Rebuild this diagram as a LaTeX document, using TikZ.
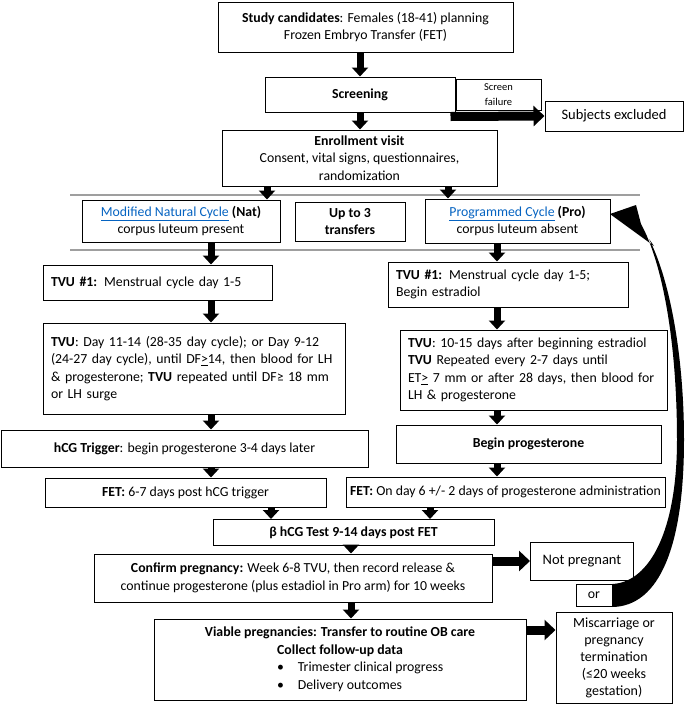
\documentclass[tikz,border=0pt]{standalone}
\usepackage{fontspec}
\setmainfont{Carlito}
\usetikzlibrary{arrows.meta,calc}
\definecolor{linkblue}{HTML}{0563C1}
\newcommand\fs{\fontsize{13.8}{17.5}\selectfont}
\newcommand\fsmall{\fontsize{10.5}{15}\selectfont}
\newcommand\fbig{\fontsize{14.5}{17}\selectfont}
\newcommand\lnk[1]{\textcolor{linkblue}{\underline{#1}}}
\tikzset{
  box/.style={draw, line width=1pt, inner sep=0pt, align=center, font=\fs},
  lbox/.style={draw, line width=1pt, inner ysep=0pt, inner xsep=8pt, align=left, font=\fs},
  varr/.style={line width=7pt, -{Triangle[width=16pt,length=9pt]}},
  harr/.style={line width=9pt, -{Triangle[width=20pt,length=11pt]}},
  sepline/.style={draw=gray!75, line width=1.2pt}
}
\begin{document}
\begin{tikzpicture}[x=1pt,y=-1pt]
\useasboundingbox (0,0) rectangle (685,705);
% separator lines
\draw[sepline] (70,195) -- (640,195);
\draw[sepline] (70,250) -- (640,250);
% boxes
\node[box, minimum width=295, minimum height=50] (study) at (365.5,27) {\textbf{Study candidates}: Females (18-41) planning\\Frozen Embryo Transfer (FET)};
\node[box, minimum width=190, minimum height=35] (screen) at (360,94.5) {\textbf{Screening}};
\node[box, minimum width=85, minimum height=31, font=\fsmall] (sfail) at (498.5,94.5) {Screen\\failure};
\node[box, minimum width=138, minimum height=30, font=\fbig] (excl) at (614,116) {Subjects excluded};
\node[box, minimum width=275, minimum height=56] (enroll) at (359.5,158) {\textbf{Enrollment visit}\\Consent, vital signs, questionnaires,\\randomization};
\node[box, minimum width=198, minimum height=42] (nat) at (181,221) {\lnk{Modified Natural Cycle} \textbf{(Nat)}\\corpus luteum present};
\node[box, minimum width=110, minimum height=39] (up) at (350,221.5) {\textbf{Up to 3}\\\textbf{transfers}};
\node[box, minimum width=185, minimum height=44] (pro) at (517.5,221) {\lnk{Programmed Cycle} \textbf{(Pro)}\\corpus luteum absent};
\node[lbox, text width=213, minimum height=35] (tvuaL) at (157.5,282.5) {\textbf{TVU \#1:} Menstrual cycle day 1-5};
\node[lbox, text width=224, minimum height=45] (tvuaR) at (508,284.5) {\textbf{TVU \#1:} Menstrual cycle day 1-5;\\Begin estradiol};
\node[lbox, text width=286, minimum height=91] (tvuL) at (194,368.5) {\textbf{TVU}: Day 11-14 (28-35 day cycle); or Day 9-12\\(24-27 day cycle), until DF\underline{>}14, then blood for LH\\\& progesterone; \textbf{TVU} repeated until DF≥ 18 mm\\or LH surge};
\node[lbox, text width=251, minimum height=80] (tvuR) at (533.5,370) {\textbf{TVU}: 10-15 days after beginning estradiol\\\textbf{TVU} Repeated every 2-7 days until\\ET\underline{>} 7 mm or after 28 days, then blood for\\LH \& progesterone};
\node[box, minimum width=367, minimum height=37] (hcg) at (184.5,448.5) {\textbf{hCG Trigger}: begin progesterone 3-4 days later};
\node[box, minimum width=265, minimum height=38] (bprog) at (528.5,444) {\textbf{Begin progesterone}};
\node[box, minimum width=281, minimum height=29] (fetL) at (185.5,492.5) {\textbf{FET:} 6-7 days post hCG trigger};
\node[box, minimum width=319, minimum height=30] (fetR) at (505.5,492) {\textbf{FET:} On day 6 +/- 2 days of progesterone administration};
\node[box, minimum width=281, minimum height=26] (bhcg) at (353.5,532.5) {\textbf{β hCG Test 9-14 days post FET}};
\node[box, minimum width=398, minimum height=48] (confirm) at (293,578) {\textbf{Confirm pregnancy:} Week 6-8 TVU, then record release \&\\continue progesterone (plus estadiol in Pro arm) for 10 weeks};
\node[box, minimum width=103, minimum height=38, font=\fbig] (notpreg) at (582,561) {Not pregnant};
\node[box, minimum width=36, minimum height=22] (or) at (594,595.5) {or};
\node[box, minimum width=116, minimum height=91, font=\fontsize{14}{17}\selectfont] (misc) at (614,658) {Miscarriage or\\pregnancy\\termination\\(≤20 weeks\\gestation)};
\node[box, minimum width=372, minimum height=81] (viable) at (340,659.5) {\textbf{Viable pregnancies: Transfer to routine OB care}\\\textbf{Collect follow-up data}\\\makebox[126pt][l]{\textbullet\hspace{14pt}Trimester clinical progress}\\\makebox[126pt][l]{\textbullet\hspace{14pt}Delivery outcomes}};
% vertical arrows
\draw[varr] (study.south -| screen) -- (screen.north);
\draw[varr] (screen.south) -- (screen.south |- enroll.north);
\draw[varr] (enroll.south -| 267,0) -- (nat.north -| 267,0);
\draw[varr] (enroll.south -| 448,0) -- (pro.north -| 448,0);
\draw[varr] (nat.south -| 211,0) -- (tvuaL.north -| 211,0);
\draw[varr] (pro.south -| 497,0) -- (tvuaR.north -| 497,0);
\draw[varr] (tvuaL.south -| 211,0) -- (tvuL.north -| 211,0);
\draw[varr] (tvuaR.south -| 497,0) -- (tvuR.north -| 497,0);
\draw[varr] (tvuL.south -| 211,0) -- (hcg.north -| 211,0);
\draw[varr] (tvuR.south -| 497,0) -- (bprog.north -| 497,0);
\draw[varr] (hcg.south -| 211,0) -- (fetL.north -| 211,0);
\draw[varr] (bprog.south -| 497,0) -- (fetR.north -| 497,0);
\draw[varr] (fetL.south -| 271,0) -- (bhcg.north -| 271,0);
\draw[varr] (fetR.south -| 430,0) -- (bhcg.north -| 430,0);
\draw[varr] (bhcg.south -| 351,0) -- (confirm.north -| 351,0);
\draw[varr] (confirm.south -| 351,0) -- (viable.north -| 351,0);
% horizontal arrows
\draw[harr] ([shift={(-5pt,-4pt)}]screen.south east) -- (excl.west);
\draw[harr] (confirm.east |- notpreg) -- (notpreg.west);
\draw[harr] (viable.east |- 0,630) -- (misc.west |- 0,630);
% curved return arrow
\fill (or.north east) .. controls (650,582) and (677,530) .. (677,440)
  .. controls (677,340) and (662,262) .. (641,224) -- (636,205) -- (610,214) -- (654,246) -- (649,239)
  .. controls (668,275) and (684,350) .. (684,440)
  .. controls (684,545) and (660,606) .. (or.south east) -- cycle;
\end{tikzpicture}
\end{document}
